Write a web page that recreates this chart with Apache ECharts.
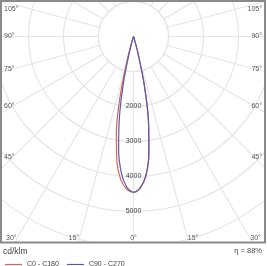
<!DOCTYPE html>
<html><head><meta charset="utf-8">
<script src="https://cdn.jsdelivr.net/npm/echarts@6/dist/echarts.min.js"></script>
<style>html,body{margin:0;padding:0;background:#fff}#c{width:267px;height:266px}</style>
</head><body><div id="c"></div>
<script>
// ---- data ----
const gammaDeg = [0, 2.5, 5, 7.5, 10, 12.5, 15, 17.5, 20];
const cdC0   = [4450, 4340, 4020, 3380, 2480, 1450, 520, 80, 0];
const cdC180 = [4450, 4370, 4120, 3620, 2820, 1800, 700, 120, 0];
const cdC90  = [4450, 4330, 4000, 3360, 2460, 1430, 500, 80, 0];
const cdC270 = [4450, 4310, 3930, 3260, 2300, 1250, 380, 50, 0];
const seriesNames = ['C0 - C180', 'C90 - C270'];
const radiusTickLabels = [2000, 3000, 4000, 5000];
const sideAngleLabels = [45, 60, 75, 90, 105];
const bottomAngleLabels = [0, 15, 30];
const unitText = 'cd/klm';
const effText = '\u03b7 = 88%';

// ---- layout ----
const cx = 133.5, cy = 36.5, pxPerK = 35, rMax = 8000;
const R = rMax / 1000 * pxPerK;
const frame = {x: 1, y: 1, w: 264, h: 241.5};
const red = '#d9625c', blue = '#5b5aa6', gridC = '#e4e4e4', txt = '#555';

function halfCurve(left, right) {
  const d = [];
  for (let i = gammaDeg.length - 1; i >= 1; i--) d.push([left[i], 360 - gammaDeg[i]]);
  d.push([left[0], 0]);
  for (let i = 1; i < gammaDeg.length; i++) d.push([right[i], gammaDeg[i]]);
  return d;
}

const g = [];
g.push({type: 'circle', z: 1, shape: {cx: cx, cy: cy, r: pxPerK}, style: {fill: '#fff', stroke: gridC, lineWidth: 1.1}, silent: true});
g.push({type: 'rect', z: 10, shape: {x: 0, y: frame.y + frame.h, width: 267, height: 40}, style: {fill: '#fff'}});
g.push({type: 'rect', z: 10, shape: {x: frame.x + frame.w, y: 0, width: 10, height: 266}, style: {fill: '#fff'}});
g.push({type: 'rect', z: 10, shape: {x: 0, y: 0, width: frame.x, height: 266}, style: {fill: '#fff'}});
g.push({type: 'rect', z: 10, shape: {x: 0, y: 0, width: 267, height: frame.y}, style: {fill: '#fff'}});
g.push({type: 'rect', z: 11, shape: {x: frame.x, y: frame.y, width: frame.w, height: frame.h}, style: {fill: 'none', stroke: '#8a8a8a', lineWidth: 2}});
const sideDx = 120.5;
sideAngleLabels.forEach(a => {
  let y = cy + sideDx / Math.tan(a * Math.PI / 180);
  if (y < 9) y = 9;
  g.push({type: 'text', z: 12, style: {text: a + '\u00b0', x: 4, y: y, fill: txt, fontSize: 7, fontFamily: 'Liberation Sans', verticalAlign: 'middle', align: 'left'}});
  g.push({type: 'text', z: 12, style: {text: a + '\u00b0', x: 262, y: y, fill: txt, fontSize: 7, fontFamily: 'Liberation Sans', verticalAlign: 'middle', align: 'right'}});
});
const by = 238.5;
bottomAngleLabels.forEach(a => {
  const off = (by - cy) * Math.tan(a * Math.PI / 180);
  const sh = a === 0 ? 0 : 5.5;
  g.push({type: 'text', z: 12, style: {text: a + '\u00b0', x: cx - off - sh, y: by, fill: txt, fontSize: 7, fontFamily: 'Liberation Sans', verticalAlign: 'middle', align: 'center'}});
  if (a !== 0) g.push({type: 'text', z: 12, style: {text: a + '\u00b0', x: cx + off + sh, y: by, fill: txt, fontSize: 7, fontFamily: 'Liberation Sans', verticalAlign: 'middle', align: 'center'}});
});
g.push({type: 'text', z: 12, style: {text: unitText, x: 3, y: 251.5, fill: '#444', fontSize: 8.5, fontFamily: 'Liberation Sans', verticalAlign: 'middle'}});
g.push({type: 'text', z: 12, style: {text: effText, x: 262, y: 250.5, fill: '#444', fontSize: 7.5, fontFamily: 'Liberation Sans', verticalAlign: 'middle', align: 'right'}});

const chart = echarts.init(document.getElementById('c'), null, {renderer: 'canvas'});
chart.setOption({
  animation: false,
  backgroundColor: '#fff',
  textStyle: {fontFamily: 'Liberation Sans'},
  polar: {center: [cx, cy], radius: R},
  angleAxis: {
    type: 'value', min: 0, max: 360, interval: 15, startAngle: 270, clockwise: false, z: 0,
    axisLine: {show: false}, axisTick: {show: false}, axisLabel: {show: false},
    splitLine: {show: true, lineStyle: {color: gridC, width: 1.1}}
  },
  radiusAxis: {
    type: 'value', min: 0, max: rMax, interval: 1000, z: 0,
    axisLine: {show: false}, axisTick: {show: false},
    axisLabel: {show: true, margin: 0, align: 'center', verticalAlign: 'middle', rotate: 0, fontSize: 7, color: '#444',
      formatter: v => radiusTickLabels.indexOf(v) >= 0 ? String(v) : ''},
    splitLine: {show: true, lineStyle: {color: gridC, width: 1.1}}
  },
  legend: {
    z: 50, left: 0, top: 256, icon: 'rect', itemWidth: 17, itemHeight: 1.2, itemGap: 8,
    textStyle: {fontSize: 7, color: '#444', fontFamily: 'Liberation Sans'},
    data: seriesNames
  },
  series: [
    {name: seriesNames[0], type: 'line', coordinateSystem: 'polar', z: 3, showSymbol: false, symbol: 'none',
      smooth: 0.3, lineStyle: {color: red, width: 1.2}, itemStyle: {color: red}, data: halfCurve(cdC180, cdC0)},
    {name: seriesNames[1], type: 'line', coordinateSystem: 'polar', z: 4, showSymbol: false, symbol: 'none',
      smooth: 0.3, lineStyle: {color: blue, width: 1.2}, itemStyle: {color: blue}, data: halfCurve(cdC270, cdC90)}
  ],
  graphic: g
});
</script></body></html>
